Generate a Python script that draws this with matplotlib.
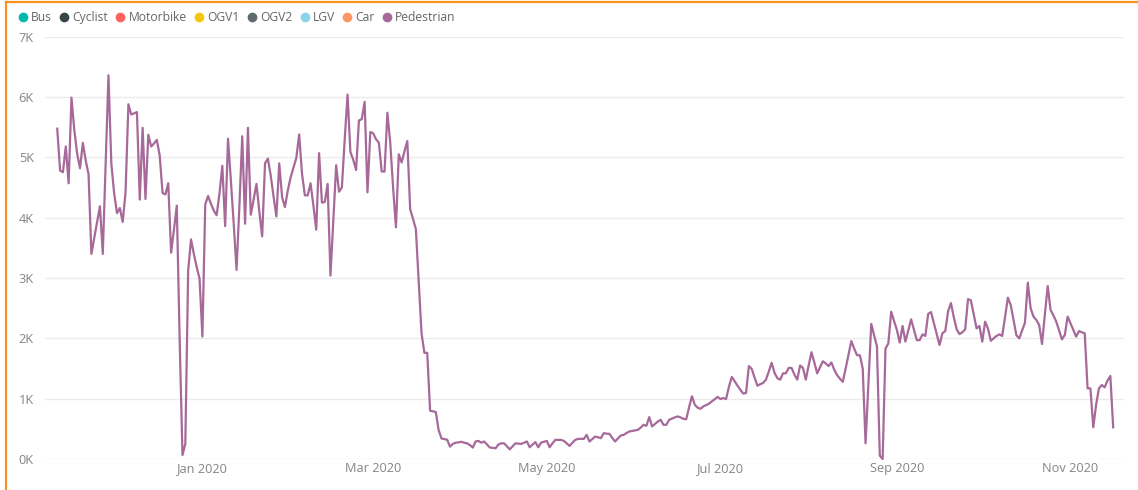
import matplotlib
matplotlib.use("Agg")
import matplotlib.pyplot as plt
from matplotlib.lines import Line2D
import pandas as pd

# ---------------- data ----------------
legend_labels = ["Bus", "Cyclist", "Motorbike", "OGV1", "OGV2", "LGV", "Car", "Pedestrian"]
legend_colors = ["#01B8AA", "#374649", "#FD625E", "#F2C80F", "#5F6B6D", "#8AD4EB", "#FE9666", "#A66999"]

start_date = "2019-11-11"
pedestrian = [
    5475, 4780, 4755, 5180, 4570, 5990, 5450, 5060, 4820, 5240, 4950, 4720, 3400, 3660, 3930, 4190, 3400, 4880, 6360,
    4900, 4400, 4075, 4160, 3930, 4420, 5880, 5710, 5730, 5750, 4300, 5490, 4310, 5375, 5180, 5230, 5290, 5030, 4410,
    4385, 4570, 3420, 3800, 4200, 2000,
    65, 250, 3120, 3640, 3400, 3180, 2990, 2030,
    4220, 4360, 4230, 4120, 4040, 4400, 4860, 3860, 5310, 4620, 3900, 3135, 4200, 5350, 3900, 5490, 4050, 4300, 4560,
    4100, 3690, 4900, 4980, 4700, 4350, 4020, 4900, 4340, 4175, 4450, 4670, 4830, 4990, 5380, 4730, 4370, 4370, 4570,
    4200, 3800, 5070, 4250, 4260, 4560, 3040, 3950, 4870, 4430, 4500, 5300, 6040, 5090, 4960, 4790, 5610, 5635, 5920,
    4420, 5420,
    5400, 5300, 5245, 4765, 4765, 5740, 5245, 4500, 3840, 5050, 4915, 5100, 5270, 4140, 3980, 3810, 2950, 2080, 1760,
    1760, 800, 790, 780, 480, 340, 330, 320, 205, 250, 270, 275, 285, 270, 260,
    230, 190, 290, 300, 270, 290, 240, 190, 185, 178, 240, 260, 260, 210, 160, 210, 260, 255, 250, 270, 290, 195, 240,
    280, 195, 272, 285, 300, 195, 260, 317, 317, 317, 300, 260, 217, 270, 317, 333, 335, 333, 400, 290, 330, 372, 360,
    345, 428, 420, 417, 350, 290, 340, 390, 400, 430, 456, 465, 475, 483, 520, 567, 550, 695, 540, 580, 620, 650, 567,
    567, 650, 670, 690, 706,
    690, 665, 660, 860, 1040, 900, 850, 833, 872, 895, 917, 955, 990, 1030, 995, 1010, 995, 1200, 1360, 1290, 1215,
    1150, 1085, 1095, 1540, 1495, 1350, 1215, 1240, 1260, 1315, 1450, 1595, 1430, 1340, 1315, 1420, 1420, 1510, 1510,
    1400, 1315, 1550, 1510, 1315, 1550, 1770, 1600, 1420, 1520, 1620, 1585, 1540, 1600, 1480, 1390, 1330, 1280,
    1500, 1730, 1955, 1830, 1720, 1720, 1500, 260, 1250, 2240, 2050, 1870, 55, 0, 1830, 1915, 2440, 2290, 2140, 1930,
    2205, 1945, 2130, 2315, 2140, 1970, 1970, 2065, 2040, 2405, 2435, 2250, 2070, 1890, 2085, 2120, 2450, 2585, 2350,
    2150, 2070, 2100, 2150, 2650, 2630, 2400, 2165, 2205, 1945, 2276, 2165, 1960, 2000, 2040, 2065, 2040, 2350, 2674,
    2552, 2300, 2050, 2000, 2130, 2260, 2923, 2500, 2360, 2304, 2220, 1906, 2400, 2867, 2470, 2380, 2276, 2130, 1983,
    2055, 2360, 2250, 2138, 2028, 2120, 2100, 2083, 1171, 1171, 525, 900, 1171, 1227, 1188, 1300, 1376, 525,
]

x_tick_dates = ["2020-01-01", "2020-03-01", "2020-05-01", "2020-07-01", "2020-09-01", "2020-11-01"]
x_tick_labels = ["Jan 2020", "Mar 2020", "May 2020", "Jul 2020", "Sep 2020", "Nov 2020"]
y_ticks = [0, 1000, 2000, 3000, 4000, 5000, 6000, 7000]
y_tick_labels = ["0K", "1K", "2K", "3K", "4K", "5K", "6K", "7K"]

# ---------------- figure ----------------
W, H = 1138, 490
plt.rcParams["font.family"] = ["Open Sans", "DejaVu Sans"]
fig = plt.figure(figsize=(W / 100, H / 100), dpi=100)
fig.patch.set_facecolor("white")

ax = fig.add_axes([45 / W, 1 - 459 / H, (1124 - 45) / W, (459 - 36.7) / H])

dates = pd.date_range(start_date, periods=len(pedestrian), freq="D")
ax.plot(dates, pedestrian, color=legend_colors[legend_labels.index("Pedestrian")],
        lw=1.6, solid_joinstyle="round", clip_on=False, zorder=3)

ax.set_ylim(0, 7000)
ax.set_xlim(dates[0] - pd.Timedelta(hours=4.3 * 24), dates[-1] + pd.Timedelta(hours=3.8 * 24))
ax.set_yticks(y_ticks)
ax.set_yticklabels(y_tick_labels)
ax.set_xticks(pd.to_datetime(x_tick_dates))
ax.set_xticklabels(x_tick_labels)
ax.yaxis.grid(True, color="#EBEBEB", lw=1.0)
ax.set_axisbelow(True)
for s in ax.spines.values():
    s.set_visible(False)
ax.tick_params(axis="both", length=0, labelsize=9.2, labelcolor="#858585")
ax.tick_params(axis="y", pad=8)
ax.tick_params(axis="x", pad=2.5)

# ---------------- legend ----------------
renderer = fig.canvas.get_renderer()
cx = 22.7
ly = 17.3
for lab, col in zip(legend_labels, legend_colors):
    fig.add_artist(Line2D([cx / W], [1 - ly / H], marker="o", markersize=7.0, color=col,
                          markeredgewidth=0, linestyle="none"))
    t = fig.text((cx + 8.0) / W, 1 - ly / H, lab, fontsize=8.7, color="#666666",
                 ha="left", va="center")
    w = t.get_window_extent(renderer).width
    cx = cx + 8.0 + w + 12.5

# ---------------- orange frame ----------------
fig.add_artist(Line2D([6.3 / W, 1.0], [1 - 2.5 / H, 1 - 2.5 / H], color="#F7941D", lw=1.6))
fig.add_artist(Line2D([6.3 / W, 6.3 / W], [0, 1 - 2.5 / H], color="#F7941D", lw=1.6))

fig.savefig("out.png", dpi=100)
